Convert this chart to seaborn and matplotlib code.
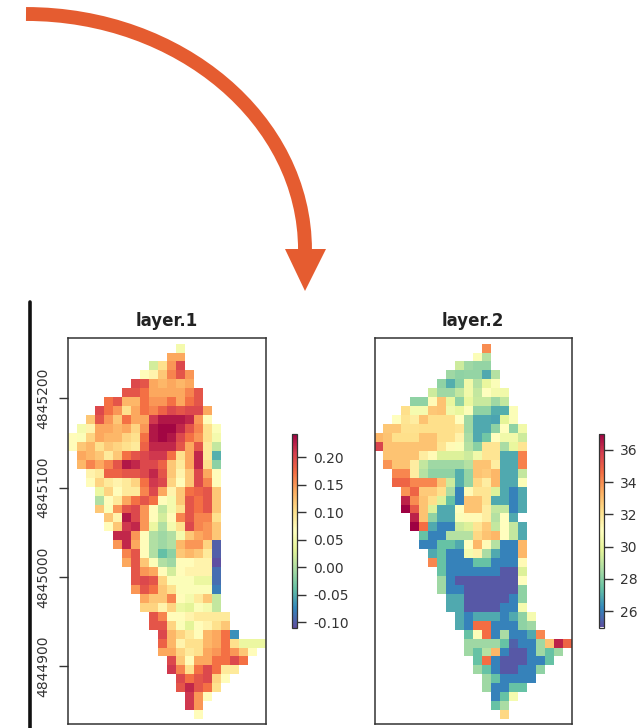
import numpy as np
import pandas as pd
import seaborn as sns
import matplotlib
matplotlib.use('Agg')
import matplotlib.pyplot as plt
from matplotlib.lines import Line2D
from matplotlib.patches import PathPatch, Polygon
from matplotlib.path import Path

sns.set_theme(style='white')
plt.rcParams['font.family'] = ['DejaVu Sans']

# first filled column of every raster row (rows run north to south)
first_col = [12, 11, 9, 8, 7, 6, 4, 3, 2, 1, 0, 0, 1, 1, 2, 2, 3, 3, 3, 4, 4, 5, 5, 6, 6, 7, 7, 7,
             8, 8, 9, 9, 10, 10, 10, 11, 11, 12, 12, 13, 13, 14]

layer1_rows = [
    [.05],
    [.14, .14],
    [.02, .10, .15, .20],
    [.07, .08, .12, .16, .19, .15],
    [.20, .19, .14, .13, .14, .13, .14],
    [.19, .19, .17, .14, .14, .14, .14, .16, .19],
    [.17, .19, .13, .13, .17, .15, .15, .17, .14, .17, .19],
    [.20, .17, .15, .10, .14, .17, .16, .18, .20, .19, .20, .20, .14],
    [.12, .19, .15, .12, .17, .14, .14, .21, .23, .23, .23, .22, .15, .07],
    [.05, .08, .14, .14, .13, .14, .11, .15, .23, .24, .24, .22, .19, .16, .10, .06],
    [.07, .06, .11, .14, .13, .13, .11, .10, .17, .23, .24, .23, .20, .17, .15, .10, .05],
    [.07, .12, .13, .10, .12, .11, .10, .09, .18, .22, .22, .22, .19, .14, .19, .09, .01],
    [.14, .13, .12, .09, .12, .17, .19, .20, .21, .21, .17, .10, .14, .22, .09, -.05],
    [.13, .16, .14, .16, .19, .23, .22, .20, .20, .18, .12, .09, .14, .22, .10, -.02],
    [.08, .09, .18, .18, .19, .19, .20, .22, .19, .12, .08, .12, .20, .14, .07],
    [.07, .11, .09, .08, .09, .11, .17, .21, .20, .11, .07, .12, .20, .16, .07],
    [.04, .11, .07, .09, .09, .16, .20, .14, .08, .12, .17, .18, .19, .12],
    [.00, .07, .09, .14, .17, .19, .17, .07, .05, .12, .19, .17, .19, .12],
    [.12, .06, .15, .19, .20, .15, .07, .01, .05, .10, .19, .17, .19, .12],
    [.12, .08, .23, .20, .15, .07, .02, .07, .16, .19, .16, .16, .10],
    [.07, .12, .21, .22, .15, .04, .00, .05, .10, .20, .16, .15, .12],
    [.22, .22, .15, .07, .00, -.01, .00, .05, .12, .14, .15, .12],
    [.15, .22, .14, .07, .00, -.01, .00, .13, .15, .15, .11, -.10],
    [.16, .19, .07, .00, -.04, -.02, .12, .13, .12, .09, -.10],
    [.14, .19, .12, .06, .00, -.01, .07, .07, .08, .08, -.11],
    [.19, .15, .14, .07, .02, .07, .08, .08, .08, -.09],
    [.19, .20, .19, .11, .06, .06, .06, .04, .04, -.09],
    [.15, .19, .17, .12, .10, .06, .06, .06, .06, -.08],
    [.14, .12, .12, .16, .07, .05, .09, .12, .01],
    [.11, .11, .08, .11, .04, .03, .06, .05, .01],
    [.19, .16, .07, .07, .08, .09, .09, .09, .09],
    [.19, .19, .11, .06, .03, .07, .08, .10, .12],
    [.20, .13, .11, .09, .07, .13, .14, .17, -.07],
    [.18, .13, .08, .10, .10, .13, .14, .17, .10, .04, .04, .04],
    [.14, .14, .11, .09, .10, .14, .15, .17, .15, .12, .07],
    [.20, .12, .07, .14, .14, .17, .17, .20, .17],
    [.21, .16, .10, .17, .20, .17, .09, .09],
    [.20, .17, .19, .20, .11, .07],
    [.19, .22, .19, .17, .10],
    [.21, .15, .07],
    [.21, .15],
    [.07],
]

layer2_rows = [
    [34.0],
    [30.8, 28.8],
    [29.3, 28.4, 28.2, 28.2],
    [28.4, 28.1, 28.2, 28.2, 26.9, 28.8],
    [28.1, 27.0, 28.0, 30.3, 28.8, 30.0, 30.8],
    [29.3, 28.4, 28.4, 29.1, 30.3, 29.1, 31.0, 30.4, 30.3],
    [28.1, 28.1, 31.2, 32.9, 30.0, 28.1, 30.0, 29.2, 29.2, 28.4, 29.1],
    [32.2, 30.5, 30.5, 32.8, 32.9, 30.3, 30.0, 30.8, 28.1, 28.1, 27.0, 27.0, 30.8],
    [31.0, 32.0, 31.7, 32.9, 32.2, 32.2, 32.2, 31.0, 28.4, 26.9, 26.9, 26.8, 29.8, 30.8],
    [32.8, 32.8, 32.1, 32.1, 32.2, 32.2, 32.2, 32.2, 32.0, 28.4, 26.9, 26.9, 28.1, 31.0, 28.1, 30.3],
    [33.2, 32.9, 32.2, 32.2, 32.2, 32.9, 32.9, 32.2, 32.2, 31.5, 28.6, 26.9, 27.6, 31.0, 30.3, 30.3, 29.3],
    [35.6, 32.9, 32.9, 32.9, 32.9, 32.9, 32.9, 32.0, 31.2, 30.8, 28.8, 28.0, 32.0, 32.0, 28.6, 30.0, 32.0],
    [32.9, 32.9, 32.9, 32.9, 31.7, 31.2, 29.6, 29.6, 29.6, 29.3, 30.3, 32.0, 32.0, 26.9, 26.9, 34.2],
    [33.9, 32.9, 32.9, 31.7, 29.1, 28.4, 28.4, 28.4, 28.4, 28.8, 32.9, 32.9, 31.7, 26.9, 26.9, 34.2],
    [34.1, 34.1, 31.7, 28.8, 28.1, 28.1, 28.1, 27.0, 28.2, 32.9, 32.7, 33.2, 26.9, 26.9, 29.1],
    [34.8, 34.8, 34.1, 34.1, 34.1, 32.9, 29.3, 27.0, 28.2, 32.4, 31.7, 33.2, 26.9, 26.9, 30.8],
    [33.9, 34.8, 32.7, 32.7, 32.2, 28.6, 26.1, 31.2, 32.0, 32.0, 29.6, 26.9, 26.1, 26.9],
    [36.3, 34.0, 32.9, 32.2, 29.6, 27.4, 26.1, 32.9, 32.9, 32.0, 26.9, 26.9, 26.1, 26.9],
    [37.0, 35.1, 32.9, 29.6, 26.9, 26.9, 31.0, 32.9, 32.9, 31.7, 29.1, 29.1, 26.1, 26.9],
    [36.3, 32.9, 28.1, 26.9, 26.9, 30.8, 31.2, 31.2, 31.7, 28.8, 31.0, 26.9, np.nan],
    [37.0, 34.6, 26.9, 26.1, 26.1, 29.3, 29.6, 32.0, 32.7, 29.1, 31.0, 29.1, 26.9],
    [27.4, 26.1, 26.1, 28.8, 28.8, 28.8, 32.4, 32.9, 33.2, 31.0, 29.1, 26.9],
    [26.1, 26.1, 27.4, 27.4, 26.9, 31.0, 33.2, 31.2, 28.8, 26.1, 26.1, 33.2],
    [26.9, 27.4, 26.1, 26.1, 30.5, 31.5, 28.6, 26.9, 26.1, 26.1, 33.2],
    [34.1, 27.4, 26.1, 26.1, 26.1, 27.4, 27.4, 26.1, 26.1, 26.1, 31.2],
    [27.4, 26.1, 26.1, 26.1, 26.1, 26.1, 26.1, 25.2, 25.2, 29.6],
    [28.4, 26.1, 25.2, 25.2, 25.2, 25.2, 25.2, 25.2, 25.2, 31.0],
    [28.4, 26.1, 26.1, 25.2, 25.2, 25.2, 25.2, 25.2, 25.2, 28.1],
    [26.9, 26.9, 25.2, 25.2, 25.2, 25.2, 25.2, 26.1, 28.1],
    [26.9, 26.9, 25.2, 25.2, 25.2, 25.2, 26.1, 26.1, 30.5],
    [26.9, 26.1, 26.9, 26.9, 26.9, 26.1, 26.9, 28.1, 30.5],
    [26.9, 26.1, 34.6, 34.6, 26.1, 26.1, 26.1, 28.1, 28.4],
    [27.4, 30.8, 34.6, 26.1, 28.6, 26.1, 26.1, 26.9, 34.1],
    [28.4, 28.4, 28.4, 28.4, 27.4, 25.4, 26.1, 26.1, 28.4, 32.9, 36.3, 34.8],
    [28.4, 27.4, 28.8, 33.2, 26.1, 25.2, 25.2, 26.1, 28.4, 27.4, 28.4],
    [27.4, 34.6, 26.1, 25.2, 25.2, 25.2, 26.1, 26.1, 27.4],
    [28.4, 27.4, 26.1, 25.2, 25.2, 26.1, 26.1, 28.1],
    [28.4, 27.4, 26.1, 26.1, 26.1, 26.1],
    [28.4, 26.1, 26.1, 27.4, 27.4],
    [26.1, 27.4, 30.5],
    [27.4, 28.6],
    [32.4],
]

layer1_ticks = [-0.10, -0.05, 0.00, 0.05, 0.10, 0.15, 0.20]
layer2_ticks = [26, 28, 30, 32, 34, 36]
northing_ticks = [4845200, 4845100, 4845000, 4844900]
n_cols = 22
cell_m = 10
top_north = 4845261  # northing of the raster's top edge

W, H = 644, 728
dark = '#333333'


def to_frame(rows):
    out = []
    for start, vals in zip(first_col, rows):
        row = [np.nan] * start + list(vals)
        row += [np.nan] * (n_cols - len(row))
        out.append(row)
    return pd.DataFrame(out)


def px_axes(fig, x0, y0, x1, y1):
    # pixel box (y from the top) to figure axes
    return fig.add_axes([x0 / W, 1 - y1 / H, (x1 - x0) / W, (y1 - y0) / H])


fig = plt.figure(figsize=(W / 100, H / 100), dpi=100, facecolor='white')

panels = [
    ('layer.1', layer1_rows, -0.11, 0.243, layer1_ticks, '%.2f', 68, 292),
    ('layer.2', layer2_rows, 25.0, 37.0, layer2_ticks, '%d', 374.5, 599),
]

for name, rows, vmin, vmax, ticks, fmt, left, cb_left in panels:
    ax = px_axes(fig, left, 337.5, left + 197.5, 724)
    cax = px_axes(fig, cb_left, 433.5, cb_left + 4.7, 627.5)
    sns.heatmap(to_frame(rows), ax=ax, cbar_ax=cax, cmap='Spectral_r', vmin=vmin, vmax=vmax,
                xticklabels=False, yticklabels=False,
                cbar_kws={'ticks': ticks, 'format': fmt})
    ax.set_ylim(42.55, -0.68)
    ax.set_xlim(0, n_cols)
    ax.set_title(name, fontsize=12, fontweight='bold', color='#222222', pad=8)
    for s in ax.spines.values():
        s.set_visible(True)
        s.set_color(dark)
        s.set_linewidth(1.1)
    cax.tick_params(length=6.5, width=1, color=dark, labelcolor=dark, labelsize=10, pad=5.5, right=True)
    cb = ax.collections[0].colorbar
    cb.outline.set_visible(True)
    cb.outline.set_edgecolor(dark)
    cb.outline.set_linewidth(0.9)
    if name == 'layer.1':
        ax.set_yticks([(top_north - n) / cell_m for n in northing_ticks])
        ax.set_yticklabels(northing_ticks, rotation=90, va='center', fontsize=10, color=dark)
        ax.tick_params(axis='y', left=True, length=6.5, width=1, color=dark, pad=6.5)

# black rule on the far left
fig.add_artist(Line2D([29.5 / W, 29.5 / W], [1 - 302 / H, 0], color='#111111', lw=2.6))

# orange arrow, drawn on an overlay in pixel coordinates
over = fig.add_axes([0, 0, 1, 1], facecolor='none')
over.set_xlim(0, W)
over.set_ylim(H, 0)
over.axis('off')
orange = '#e55c30'
curve = Path([(26, 14), (180, 14), (305, 120), (305, 250)],
             [Path.MOVETO, Path.CURVE4, Path.CURVE4, Path.CURVE4])
over.add_patch(PathPatch(curve, fill=False, edgecolor=orange, lw=10, capstyle='butt'))
over.add_patch(Polygon([(285, 249), (326, 249), (305, 291)], closed=True, facecolor=orange, edgecolor='none'))

fig.savefig('out.png', dpi=100)
